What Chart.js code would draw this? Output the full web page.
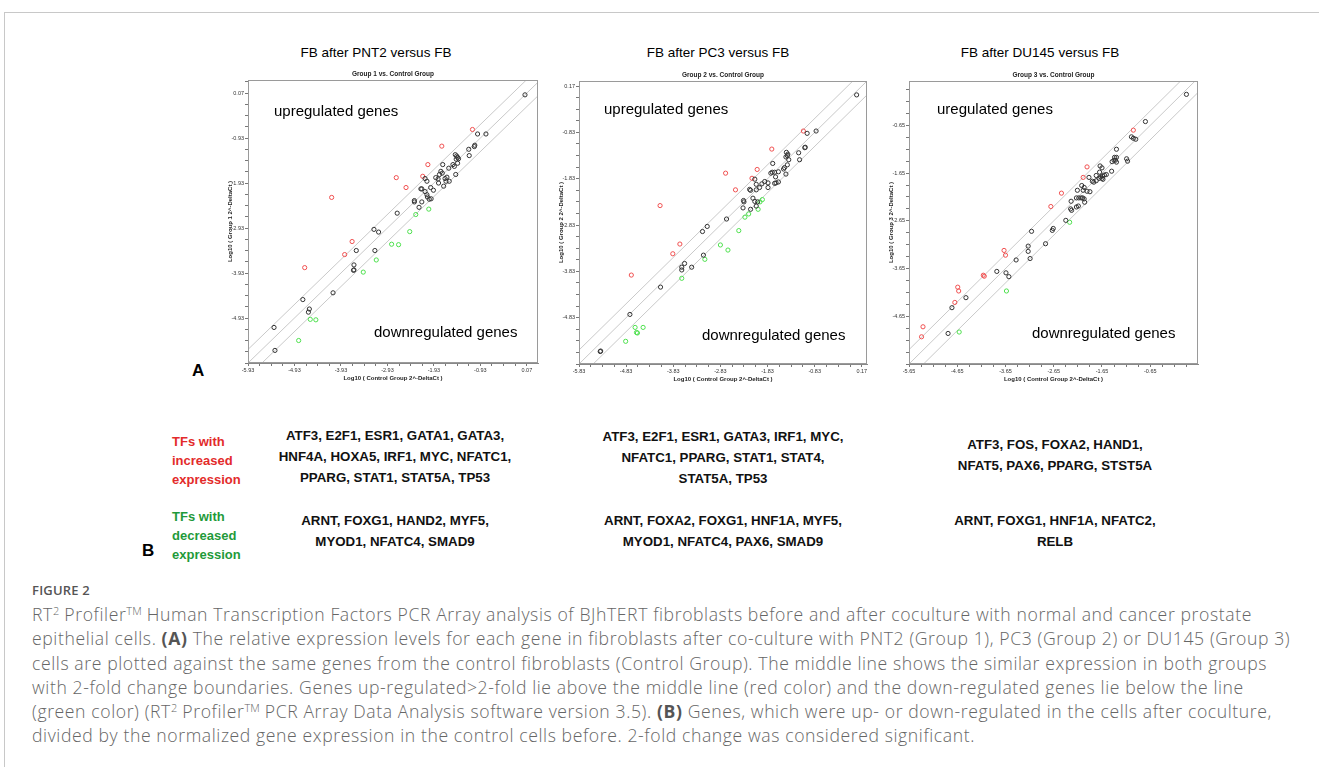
<!DOCTYPE html>
<html>
<head>
<meta charset="utf-8">
<script src="https://cdn.jsdelivr.net/npm/chart.js@4.4.0/dist/chart.umd.min.js"></script>
<style>
  body { margin: 0; background: #fff; width: 1319px; height: 767px; overflow: hidden; position: relative; font-family: 'Liberation Sans', Arial, sans-serif; }
  .frame { position: absolute; left: 4px; top: 12px; right: -2px; bottom: -2px; border-top: 1px solid #c8c8c8; border-left: 1px solid #c8c8c8; }
  canvas { position: absolute; }
  .head { position: absolute; width: 300px; margin-left: -150px; text-align: center; font-size: 13.5px; color: #000; white-space: nowrap; top: 45px; }
  .letter { position: absolute; font-weight: bold; font-size: 17px; color: #000; }
  .tf { position: absolute; left: 172px; font-weight: bold; font-size: 13px; line-height: 19px; }
  .genes { position: absolute; width: 340px; margin-left: -170px; text-align: center; font-weight: bold; font-size: 13.3px; line-height: 21px; color: #111; white-space: nowrap; }
  .figlabel { position: absolute; left: 32px; top: 581px; font-family: 'Open Sans', sans-serif; font-weight: 600; font-size: 13px; letter-spacing: 0.2px; color: #555; }
  .caption { position: absolute; left: 32px; top: 602px; font-family: 'Open Sans', sans-serif; font-weight: 300; font-size: 17.6px; letter-spacing: 0.6px; line-height: 24.3px; color: #666; white-space: nowrap; }
  .caption b { font-weight: 700; color: #555; }
  .caption sup { font-size: 11px; line-height: 0; vertical-align: 6px; letter-spacing: 0; }
</style>
</head>
<body>
<div class="frame"></div>

<div class="head" style="left:376px">FB after PNT2 versus FB</div>
<div class="head" style="left:718px">FB after PC3 versus FB</div>
<div class="head" style="left:1040px">FB after DU145 versus FB</div>

<canvas id="g1" width="323" height="319" style="left:222px;top:66px"></canvas>
<canvas id="g2" width="321" height="319" style="left:553px;top:67px"></canvas>
<canvas id="g3" width="322" height="319" style="left:883px;top:67px"></canvas>

<div class="letter" style="left:192px;top:361px">A</div>
<div class="letter" style="left:142px;top:541px">B</div>

<div class="tf" style="top:432px;color:#e32b2b">TFs with<br>increased<br>expression</div>
<div class="tf" style="top:507px;color:#1f9a3a">TFs with<br>decreased<br>expression</div>

<div class="genes" style="left:395px;top:425px">ATF3, E2F1, ESR1, GATA1, GATA3,<br>HNF4A, HOXA5, IRF1, MYC, NFATC1,<br>PPARG, STAT1, STAT5A, TP53</div>
<div class="genes" style="left:395px;top:510px">ARNT, FOXG1, HAND2, MYF5,<br>MYOD1, NFATC4, SMAD9</div>
<div class="genes" style="left:723px;top:426px">ATF3, E2F1, ESR1, GATA3, IRF1, MYC,<br>NFATC1, PPARG, STAT1, STAT4,<br>STAT5A, TP53</div>
<div class="genes" style="left:723px;top:510px">ARNT, FOXA2, FOXG1, HNF1A, MYF5,<br>MYOD1, NFATC4, PAX6, SMAD9</div>
<div class="genes" style="left:1055px;top:434px">ATF3, FOS, FOXA2, HAND1,<br>NFAT5, PAX6, PPARG, STST5A</div>
<div class="genes" style="left:1055px;top:510px">ARNT, FOXG1, HNF1A, NFATC2,<br>RELB</div>

<div class="figlabel">FIGURE 2</div>
<div class="caption">RT<sup>2</sup> Profiler<sup>TM</sup> Human Transcription Factors PCR Array analysis of BJhTERT fibroblasts before and after coculture with normal and cancer prostate<br>epithelial cells. <b>(A)</b> The relative expression levels for each gene in fibroblasts after co-culture with PNT2 (Group 1), PC3 (Group 2) or DU145 (Group 3)<br>cells are plotted against the same genes from the control fibroblasts (Control Group). The middle line shows the similar expression in both groups<br>with 2-fold change boundaries. Genes up-regulated&gt;2-fold lie above the middle line (red color) and the down-regulated genes lie below the line<br>(green color) (RT<sup>2</sup> Profiler<sup>TM</sup> PCR Array Data Analysis software version 3.5). <b>(B)</b> Genes, which were up- or down-regulated in the cells after coculture,<br>divided by the normalized gene expression in the control cells before. 2-fold change was considered significant.</div>

<script>
// fold change boundary (2-fold)
const FOLD = 2;

// Group 1 (PNT2) vs control: [control, group]
const g1Black = [[0.03,0.03],[-0.99,-0.84],[-0.81,-0.84],[-1.05,-1.09],[-1.06,-1.12],[-1.18,-1.18],[-1.17,-1.32],
  [-1.47,-1.30],[-1.44,-1.33],[-1.42,-1.36],[-1.45,-1.40],[-1.40,-1.39],[-1.52,-1.52],[-1.49,-1.56],[-1.42,-1.49],
  [-1.74,-1.52],[-1.61,-1.60],[-1.46,-1.74],[-1.78,-1.67],[-1.75,-1.71],[-1.81,-1.74],[-1.89,-1.81],[-1.84,-1.84],
  [-1.69,-1.83],[-1.65,-1.80],[-1.60,-1.89],[-1.67,-1.89],[-1.83,-1.93],[-1.72,-2.00],[-2.12,-1.83],[-2.08,-1.89],
  [-2.21,-2.06],[-2.19,-2.06],[-2.00,-2.03],[-1.94,-2.09],[-2.12,-2.12],[-2.08,-2.19],[-2.07,-2.24],[-2.03,-2.29],
  [-1.99,-2.28],[-2.35,-2.32],[-2.35,-2.35],[-2.19,-2.35],[-2.25,-2.47],[-2.72,-2.60],[-3.22,-2.96],[-3.12,-3.02],
  [-3.60,-3.43],[-3.20,-3.43],[-3.65,-3.75],[-3.65,-3.86],[-3.66,-3.87],[-4.10,-4.37],[-4.75,-4.52],[-4.61,-4.73],
  [-4.63,-4.80],[-5.37,-5.14],[-5.35,-5.65]];
const g1Red = [[-1.10,-0.74],[-1.76,-1.11],[-2.06,-1.52],[-2.17,-1.78],[-2.74,-1.81],[-2.53,-2.03],[-4.13,-2.25],
  [-3.69,-3.23],[-3.85,-3.52],[-4.71,-3.81]];
const g1Green = [[-2.04,-2.51],[-2.32,-2.63],[-2.45,-3.01],[-2.84,-3.29],[-2.69,-3.30],[-3.17,-3.64],[-3.45,-3.91],
  [-4.59,-4.96],[-4.47,-4.97],[-4.84,-5.43]];

// Group 2 (PC3) vs control
const g2Black = [[0.06,-0.02],[-0.80,-0.80],[-0.99,-0.85],[-1.03,-1.15],[-1.04,-1.16],[-1.17,-1.27],[-1.15,-1.42],
  [-1.43,-1.26],[-1.40,-1.30],[-1.41,-1.33],[-1.44,-1.36],[-1.38,-1.42],[-1.41,-1.53],[-1.44,-1.73],[-1.47,-1.59],
  [-1.49,-1.62],[-1.60,-1.68],[-1.72,-1.50],[-1.76,-1.71],[-1.73,-1.69],[-1.68,-1.69],[-1.66,-1.79],[-1.60,-1.90],
  [-1.68,-1.93],[-1.65,-1.92],[-2.10,-1.84],[-2.07,-1.95],[-1.89,-1.89],[-1.95,-1.94],[-2.00,-2.02],[-1.82,-1.92],
  [-1.82,-2.02],[-2.07,-2.07],[-2.19,-2.08],[-2.21,-2.06],[-2.14,-2.25],[-2.10,-2.32],[-2.04,-2.33],[-2.07,-2.42],
  [-2.19,-2.49],[-2.35,-2.46],[-2.34,-2.30],[-2.33,-2.33],[-2.70,-2.70],[-3.11,-2.86],[-3.21,-2.97],[-3.19,-3.48],
  [-3.59,-3.66],[-3.65,-3.74],[-3.65,-3.80],[-3.44,-3.74],[-4.10,-4.17],[-4.75,-4.76],[-5.37,-5.55],[-5.38,-5.56]];
const g2Red = [[-1.07,-0.80],[-1.74,-1.19],[-2.05,-1.63],[-2.16,-1.82],[-2.72,-1.71],[-2.51,-2.07],[-4.11,-2.41],
  [-3.69,-3.24],[-3.84,-3.45],[-4.72,-3.91]];
const g2Green = [[-1.94,-2.28],[-1.99,-2.33],[-2.03,-2.49],[-2.23,-2.59],[-2.31,-2.66],[-2.44,-2.95],[-2.83,-3.26],
  [-2.67,-3.37],[-3.16,-3.57],[-3.65,-3.98],[-4.64,-5.04],[-4.47,-5.04],[-4.61,-5.15],[-4.59,-5.16],[-4.84,-5.34]];

// Group 3 (DU145) vs control
const g3Black = [[0.10,0.00],[-0.75,-0.57],[-1.04,-0.89],[-1.00,-0.92],[-0.95,-0.94],[-1.14,-1.35],[-1.12,-1.40],
  [-1.35,-1.15],[-1.39,-1.32],[-1.35,-1.32],[-1.40,-1.38],[-1.37,-1.38],[-1.35,-1.42],[-1.44,-1.41],[-1.45,-1.61],
  [-1.56,-1.68],[-1.64,-1.71],[-1.68,-1.73],[-1.65,-1.76],[-1.71,-1.76],[-1.63,-1.78],[-1.60,-1.69],[-1.70,-1.63],
  [-1.69,-1.50],[-1.65,-1.54],[-1.77,-1.70],[-1.77,-1.81],[-1.82,-1.84],[-1.92,-1.74],[-1.85,-1.82],[-2.07,-1.91],
  [-2.02,-1.95],[-2.04,-2.01],[-2.16,-2.01],[-1.96,-2.03],[-1.90,-2.04],[-2.18,-2.17],[-2.13,-2.17],[-2.08,-2.17],
  [-2.05,-2.17],[-2.02,-2.19],[-2.01,-2.26],[-2.14,-2.34],[-2.18,-2.36],[-2.29,-2.24],[-2.30,-2.40],[-2.28,-2.43],
  [-2.40,-2.64],[-3.11,-2.87],[-2.66,-2.81],[-2.68,-2.85],[-2.82,-3.13],[-3.18,-3.18],[-3.18,-3.29],[-3.14,-3.44],
  [-3.43,-3.47],[-3.83,-3.71],[-3.64,-3.74],[-3.58,-3.82],[-4.47,-4.26],[-4.76,-4.47],[-4.84,-5.01]];
const g3Red = [[-1.00,-0.75],[-1.96,-1.52],[-2.04,-1.74],[-2.49,-2.07],[-2.71,-2.35],[-3.68,-3.27],[-3.65,-3.37],
  [-4.11,-3.79],[-4.09,-3.81],[-4.64,-4.04],[-4.62,-4.12],[-4.70,-4.36],[-5.36,-4.87],[-5.39,-5.08]];
const g3Green = [[-2.32,-2.68],[-3.63,-4.12],[-4.61,-4.98]];

// axis ranges [min, max]
const g1X = [-5.93, 0.31], g1Y = [-5.93, 0.36];
const g2X = [-5.83, 0.28], g2Y = [-5.83, 0.28];
const g3X = [-5.65, 0.34], g3Y = [-5.65, 0.28];

Chart.defaults.font.family = "'Liberation Sans', Arial, sans-serif";

// frame, small title and the two notes inside the plot
const panelText = {
  id: 'panelText',
  afterDraw(chart, args, o) {
    const { ctx, chartArea: a } = chart;
    ctx.save();
    ctx.strokeStyle = '#9a9a9a';
    ctx.lineWidth = 1;
    ctx.strokeRect(a.left + 0.5, a.top + 0.5, a.width - 1, a.height - 1);
    ctx.fillStyle = '#222';
    ctx.font = "bold 6.5px 'Liberation Sans'";
    ctx.textAlign = 'center';
    ctx.textBaseline = 'middle';
    ctx.fillText(o.title, (a.left + a.right) / 2, a.top - 6);
    ctx.fillStyle = '#000';
    ctx.font = "15px 'Liberation Sans'";
    ctx.textAlign = 'left';
    ctx.fillText(o.up, a.left + o.upPos[0], a.top + o.upPos[1]);
    ctx.fillText(o.down, a.left + o.downPos[0], a.top + o.downPos[1]);
    ctx.restore();
  }
};

function axis(range, title, isY) {
  const [min, max] = range;
  return {
    type: 'linear', min: min, max: max,
    afterBuildTicks(s) {
      const t = [];
      for (let k = 0; min + k * 0.25 <= max + 1e-9; k++) t.push({ value: min + k * 0.25 });
      s.ticks = t;
    },
    afterFit(s) { if (isY) s.width = 26; else s.height = 22; },
    ticks: {
      autoSkip: false, maxRotation: 0, padding: 1, color: '#333',
      font: { size: 5.5 },
      callback(v) {
        const k = (v - min);
        if (Math.abs(k - Math.round(k)) > 1e-6) return '';
        if (isY && Math.round(k) === 0) return '';
        return v.toFixed(2);
      }
    },
    grid: { drawOnChartArea: false, drawTicks: true, tickLength: 3, color: '#777' },
    border: { color: '#888' },
    title: {
      display: true, text: title, color: '#222',
      font: { size: 6, weight: 'bold' },
      padding: isY ? { top: 5 } : { bottom: 3.4, top: 0 }
    }
  };
}

function pts(arr) { return arr.map(p => ({ x: p[0], y: p[1] })); }

function foldLine(xr, off) {
  return {
    type: 'line', order: 2,
    data: [{ x: xr[0], y: xr[0] + off }, { x: xr[1], y: xr[1] + off }],
    borderColor: '#c9c9c9', borderWidth: 1, pointRadius: 0, fill: false
  };
}

function dots(arr, color) {
  return {
    type: 'scatter', order: 1, data: pts(arr),
    borderColor: color, backgroundColor: 'rgba(0,0,0,0)',
    borderWidth: 1, pointRadius: 2.1, pointHoverRadius: 2.1
  };
}

function makePanel(id, black, red, green, xr, yr, group, upText, upPos, downPos) {
  const d = Math.log10(FOLD);
  return new Chart(document.getElementById(id), {
    data: {
      datasets: [
        dots(black, '#333333'), dots(red, '#f05050'), dots(green, '#4ee04e'),
        foldLine(xr, d), foldLine(xr, 0), foldLine(xr, -d)
      ]
    },
    options: {
      responsive: false, animation: false,
      layout: { padding: { top: 14, right: 7, left: 0, bottom: 0 } },
      scales: {
        x: axis(xr, 'Log10 ( Control Group 2^-DeltaCt )', false),
        y: axis(yr, 'Log10 ( Group ' + group + ' 2^-DeltaCt )', true)
      },
      plugins: {
        legend: { display: false },
        tooltip: { enabled: false },
        panelText: { title: 'Group ' + group + ' vs. Control Group', up: upText, down: 'downregulated genes', upPos: upPos, downPos: downPos }
      }
    },
    plugins: [panelText]
  });
}

makePanel('g1', g1Black, g1Red, g1Green, g1X, g1Y, 1, 'upregulated genes', [26, 32], [126, 253]);
makePanel('g2', g2Black, g2Red, g2Green, g2X, g2Y, 2, 'upregulated genes', [25, 29], [123, 255]);
makePanel('g3', g3Black, g3Red, g3Green, g3X, g3Y, 3, 'uregulated genes', [28, 29], [123, 253]);
</script>
</body>
</html>
